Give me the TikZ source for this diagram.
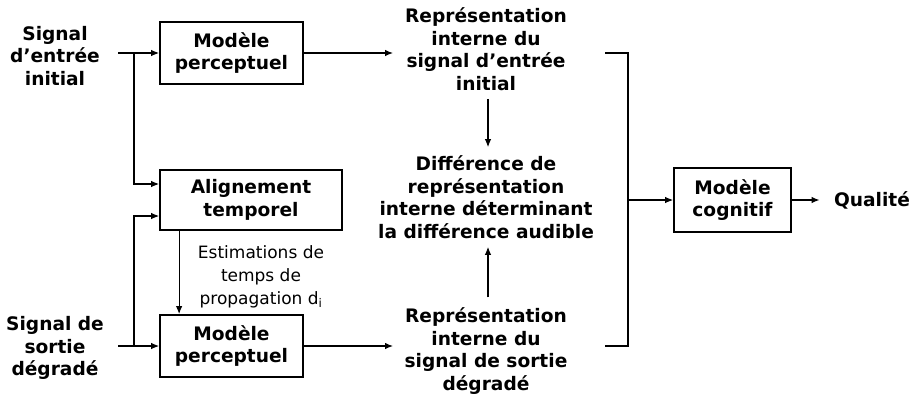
\documentclass[tikz,border=0pt]{standalone}
\usepackage{fontspec}
\setmainfont{DejaVu Sans}
\usetikzlibrary{arrows.meta}

\begin{document}
\begin{tikzpicture}[x=1pt,y=-1pt,line width=1.1pt,
    >={Latex[length=8pt,width=6.5pt]},
    blk/.style={draw,line width=1.8pt,inner sep=0pt,align=center,
      font=\bfseries\fontsize{18.6}{22.5}\selectfont},
    lbl/.style={inner sep=0pt,align=center,
      font=\bfseries\fontsize{18.6}{22.5}\selectfont}]
    \useasboundingbox (0,0) rectangle (912,394);

    % entrees
    \node[lbl] (sigin) at (55,56) {Signal\\d’entrée\\initial};
    \node[lbl] (sigout) at (55,348) {Signal de\\sortie\\dégradé};

    % blocs
    \node[blk,minimum width=143pt,minimum height=62pt] (mpa) at (231.5,53) {Modèle\\perceptuel};
    \node[blk,minimum width=182pt,minimum height=60pt] (align) at (251,200) {Alignement\\temporel};
    \node[blk,minimum width=143pt,minimum height=62pt] (mpb) at (231.5,346) {Modèle\\perceptuel};
    \node[blk,minimum width=117pt,minimum height=64pt] (cog) at (732.5,200) {Modèle\\cognitif};

    % representations
    \node[lbl] (repa) at (486,49) {Représentation\\interne du\\signal d’entrée\\initial};
    \node[lbl] (diff) at (486,197) {Différence de\\représentation\\interne déterminant\\la différence audible};
    \node[lbl] (repb) at (486,351) {Représentation\\interne du\\signal de sortie\\dégradé};
    \node[lbl] (qual) at (872,200) {Qualité};
    \node[align=center,inner sep=0pt,font=\fontsize{17}{23}\selectfont] (est) at (261,277)
      {Estimations de\\temps de\\propagation d\textsubscript{i}};

    \coordinate (ina) at (118,53);
    \coordinate (bra) at (134,53);
    \coordinate (inb) at (118,346);
    \coordinate (brb) at (134,346);
    \coordinate (ra) at (393,53);
    \coordinate (rb) at (393,346);
    \coordinate (bka) at (605,53);
    \coordinate (bkb) at (628,53);
    \coordinate (bkc) at (628,346);
    \coordinate (bkd) at (605,346);

    \draw[->] (ina) -- (mpa);
    \draw[->] (bra) |- ([yshift=16pt]align.west);
    \draw[->] (inb) -- (mpb);
    \draw[->] (brb) |- ([yshift=-16pt]align.west);
    \draw[->] ([xshift=20pt]align.south west) -- ([xshift=20pt]mpb.north west);
    \draw[->] (mpa) -- (ra);
    \draw[->] (mpb) -- (rb);
    \draw[->,shorten <=8pt,shorten >=8pt] ([xshift=2pt]repa.south) -- ([xshift=2pt]diff.north);
    \draw[->,shorten <=10pt,shorten >=8pt] ([xshift=2pt]repb.north) -- ([xshift=2pt]diff.south);
    \draw (bka) -- (bkb) -- (bkc) -- (bkd);
    \draw[->] (bkb |- cog) -- (cog);
    \draw[->,shorten >=14pt] (cog) -- (qual.west);
  \end{tikzpicture}
\end{document}
